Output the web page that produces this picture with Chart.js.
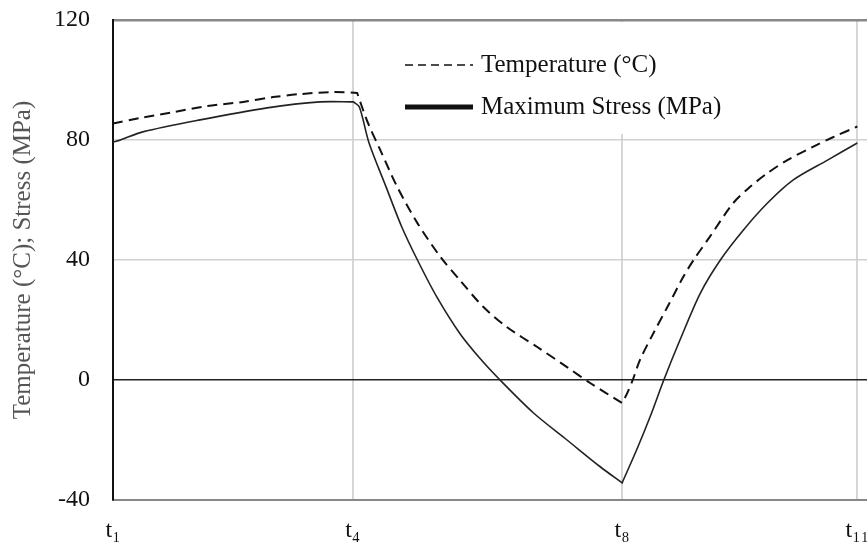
<!DOCTYPE html>
<html>
<head>
<meta charset="utf-8">
<script src="https://cdn.jsdelivr.net/npm/chart.js@4.4.1/dist/chart.umd.min.js"></script>
<style>
  html, body { margin: 0; padding: 0; background: #fff; }
  #wrap { width: 867px; height: 542px; }
</style>
</head>
<body>
<div id="wrap"><canvas id="chart" width="867" height="542"></canvas></div>
<script>
// time axis: t1 .. t11 mapped on 0..100
const tickPos = [0, 32.2, 68.4, 100];
const tickLabels = ['t₁', 't₄', 't₈', 't₁₁'];

// corner points are listed twice so the spline keeps them sharp
const tempTime = [0, 3.6, 8.1, 12.6, 17.5, 21.5, 25.1, 29.6, 32.8, 32.8, 34.2, 35.9, 38.2, 40.9, 44.0, 46.6, 49.7, 53.0, 57.0, 61.0, 64.1, 68.4, 68.4, 69.1, 69.9, 70.8, 72.6, 74.5, 76.6, 78.0, 80.2, 83.3, 85.6, 87.9, 90.6, 94.1, 96.8, 100];
const temperature = [85.5, 87.3, 89.3, 91.3, 92.7, 94.3, 95.3, 96, 95.7, 95.7, 86, 76.7, 64.3, 52.3, 41, 33.3, 24.5, 17.5, 11, 4.3, -1, -7.7, -7.7, -4.3, 0.5, 6.7, 15.6, 24.4, 34.3, 40, 47.8, 58.9, 64.4, 68.9, 73.3, 77.8, 81, 84.5];

const stressTime = [0, 1.0, 4.0, 11.7, 20.7, 27.8, 32.3, 32.3, 33.1, 34.4, 36.7, 38.8, 40.9, 43.5, 46.6, 49.2, 52.0, 56.5, 61.0, 65.5, 68.4, 68.4, 70.4, 72.2, 74.0, 76.2, 78.9, 81.6, 84.7, 87.9, 91.4, 96.0, 100];
const stress = [79.3, 80, 82.7, 86.7, 90.7, 92.7, 92.7, 92.7, 91, 79, 64.3, 51, 40, 27.7, 15.5, 7.5, 0, -11, -20, -29, -34.3, -34.3, -23, -12, 0, 13.5, 28.9, 40, 50, 58.9, 66.7, 73.3, 79];

const serif = "'Liberation Serif', 'DejaVu Serif', serif";

// legend drawn inside the plot on a white box, dashed / thick solid samples
const innerLegend = {
  id: 'innerLegend',
  beforeDatasetsDraw(chart) {
    const ctx = chart.ctx;
    ctx.save();
    ctx.fillStyle = '#fff';
    ctx.fillRect(395, 22, 345, 112);
    ctx.restore();
  },
  afterDraw(chart) {
    const ctx = chart.ctx;
    const rows = [
      { y: 65, dash: [8, 5], width: 1.6 },
      { y: 107, dash: [], width: 5 }
    ];
    ctx.save();
    chart.data.datasets.forEach((ds, i) => {
      const r = rows[i];
      ctx.beginPath();
      ctx.setLineDash(r.dash);
      ctx.lineWidth = r.width;
      ctx.strokeStyle = '#111';
      ctx.moveTo(405, r.y);
      ctx.lineTo(473, r.y);
      ctx.stroke();
      ctx.setLineDash([]);
      ctx.fillStyle = '#111';
      ctx.font = '25px ' + serif;
      ctx.textBaseline = 'middle';
      ctx.fillText(ds.label, 481, r.y);
    });
    ctx.restore();
  }
};

new Chart(document.getElementById('chart'), {
  type: 'line',
  data: {
    datasets: [
      {
        label: 'Temperature (°C)',
        data: tempTime.map((t, i) => ({ x: t, y: temperature[i] })),
        borderColor: '#111',
        borderWidth: 2,
        borderDash: [10, 6],
        pointRadius: 0,
        tension: 0.3
      },
      {
        label: 'Maximum Stress (MPa)',
        data: stressTime.map((t, i) => ({ x: t, y: stress[i] })),
        borderColor: '#222',
        borderWidth: 1.6,
        pointRadius: 0,
        tension: 0.3
      }
    ]
  },
  options: {
    responsive: false,
    animation: false,
    layout: { padding: { top: 20, right: 0, left: 0, bottom: 0 } },
    plugins: {
      legend: { display: false },
      tooltip: { enabled: false }
    },
    scales: {
      x: {
        type: 'linear',
        min: 0,
        max: 101.3,
        afterBuildTicks: s => { s.ticks = tickPos.map(v => ({ value: v })); },
        afterFit: s => { s.height = 42; s.paddingLeft = 0; s.paddingRight = 0; },
        ticks: {
          autoSkip: false,
          maxRotation: 0,
          padding: 16,
          color: '#111',
          font: { family: serif, size: 24 },
          callback: (v, i) => tickLabels[i]
        },
        grid: {
          drawTicks: false,
          color: ctx => ctx.index === 0 ? 'rgba(0,0,0,0)' : '#d6d6d6',
          lineWidth: 2
        },
        border: { color: '#888', width: 2 }
      },
      y: {
        min: -40,
        max: 120,
        afterFit: s => { s.width = 113; s.paddingTop = 0; s.paddingBottom = 0; },
        ticks: {
          stepSize: 40,
          padding: 23,
          color: '#111',
          font: { family: serif, size: 24 }
        },
        grid: {
          drawTicks: false,
          color: ctx => {
            const v = ctx.tick && ctx.tick.value;
            if (v === 0) return '#222';
            if (v === 120 || v === -40) return '#888';
            return '#d0d0d0';
          },
          lineWidth: ctx => {
            const v = ctx.tick && ctx.tick.value;
            if (v === 120) return 2.5;
            return 1.5;
          }
        },
        border: { color: '#111', width: 2 },
        title: {
          display: true,
          text: 'Temperature (°C); Stress (MPa)',
          color: '#555',
          font: { family: serif, size: 25 },
          padding: { top: 8, bottom: 0 }
        }
      }
    }
  },
  plugins: [innerLegend]
});
</script>
</body>
</html>
